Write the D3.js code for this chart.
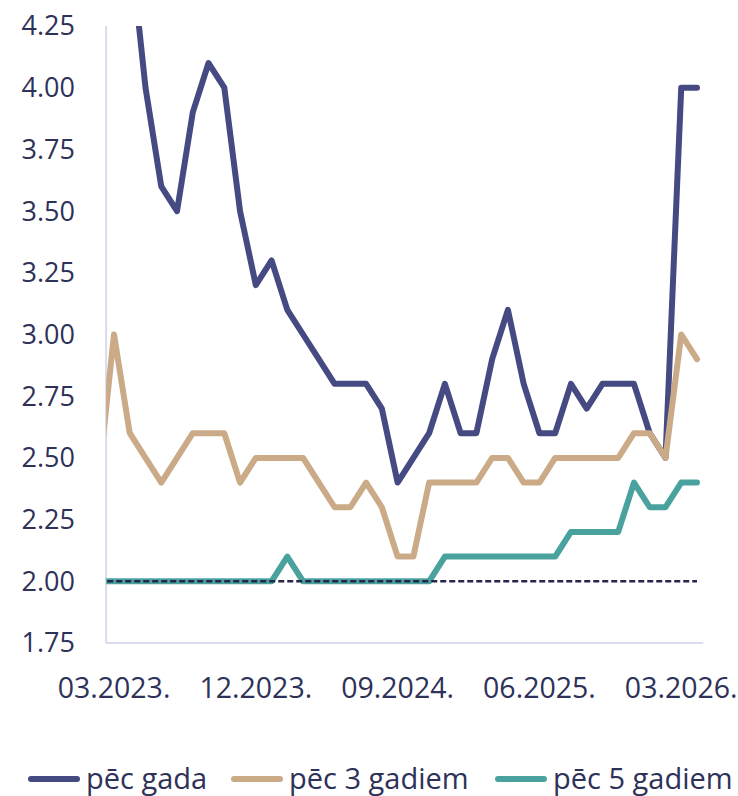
<!DOCTYPE html>
<html>
<head>
<meta charset="utf-8">
<script src="https://cdn.jsdelivr.net/npm/d3@7"></script>
<style>
  body { margin: 0; background: #fff; }
  text { font-family: "Open Sans", sans-serif; fill: #2e3158; }
</style>
</head>
<body>
<script>
// months from 02.2023 (partly outside the axis) to 04.2026
let months = d3.range(-1, 38).map(i => {
    let d = new Date(2023, 2 + i, 1);
    return String(d.getMonth() + 1).padStart(2, "0") + "." + d.getFullYear() + ".";
});

let pecGada = [5.3, 5.0, 4.6, 4.0, 3.6, 3.5, 3.9, 4.1, 4.0, 3.5, 3.2, 3.3, 3.1, 3.0, 2.9, 2.8, 2.8, 2.8, 2.7, 2.4,
    2.5, 2.6, 2.8, 2.6, 2.6, 2.9, 3.1, 2.8, 2.6, 2.6, 2.8, 2.7, 2.8, 2.8, 2.8, 2.6, 2.5, 4.0, 4.0];
let pec3 = [2.4, 3.0, 2.6, 2.5, 2.4, 2.5, 2.6, 2.6, 2.6, 2.4, 2.5, 2.5, 2.5, 2.5, 2.4, 2.3, 2.3, 2.4, 2.3, 2.1,
    2.1, 2.4, 2.4, 2.4, 2.4, 2.5, 2.5, 2.4, 2.4, 2.5, 2.5, 2.5, 2.5, 2.5, 2.6, 2.6, 2.5, 3.0, 2.9];
let pec5 = [2.0, 2.0, 2.0, 2.0, 2.0, 2.0, 2.0, 2.0, 2.0, 2.0, 2.0, 2.0, 2.1, 2.0, 2.0, 2.0, 2.0, 2.0, 2.0, 2.0,
    2.0, 2.0, 2.1, 2.1, 2.1, 2.1, 2.1, 2.1, 2.1, 2.1, 2.2, 2.2, 2.2, 2.2, 2.4, 2.3, 2.3, 2.4, 2.4];
let merkis = months.map(() => 2.0);

let yTicks = [1.75, 2.00, 2.25, 2.50, 2.75, 3.00, 3.25, 3.50, 3.75, 4.00, 4.25];
let xLabels = ["03.2023.", "12.2023.", "09.2024.", "06.2025.", "03.2026."];

let series = [
    { name: "pēc gada", values: pecGada, color: "#454a83" },
    { name: "pēc 3 gadiem", values: pec3, color: "#cbab87" },
    { name: "pēc 5 gadiem", values: pec5, color: "#4aa29f" }
];

let width = 738, height = 796;

let svg = d3.select("body").append("svg")
    .attr("width", width)
    .attr("height", height);

// month index: 0 = 03.2023
let x = d3.scaleLinear()
    .domain([0, 37])
    .range([114, 697]);

let y = d3.scaleLinear()
    .domain([1.75, 4.25])
    .range([643, 26]);

let x0 = x(-0.5), x1 = x(37.4);

svg.append("defs").append("clipPath")
    .attr("id", "plot")
  .append("rect")
    .attr("x", x0)
    .attr("y", y(4.25))
    .attr("width", x1 - x0)
    .attr("height", y(1.75) - y(4.25));

// axes lines
svg.append("line")
    .attr("x1", x0).attr("x2", x0)
    .attr("y1", y(4.25)).attr("y2", y(1.75))
    .attr("stroke", "#d9dbef").attr("stroke-width", 2);
svg.append("line")
    .attr("x1", x0).attr("x2", x1)
    .attr("y1", y(1.75)).attr("y2", y(1.75))
    .attr("stroke", "#d9dbef").attr("stroke-width", 2);

// y tick labels
svg.selectAll(".ytick")
    .data(yTicks)
  .enter().append("text")
    .attr("class", "ytick")
    .attr("x", 75)
    .attr("y", d => y(d))
    .attr("dy", "0.35em")
    .attr("text-anchor", "end")
    .style("font-size", "27px")
    .text(d => d.toFixed(2));

// x tick labels
svg.selectAll(".xtick")
    .data(xLabels)
  .enter().append("text")
    .attr("class", "xtick")
    .attr("x", d => x(months.indexOf(d) - 1))
    .attr("y", 698)
    .attr("text-anchor", "middle")
    .style("font-size", "28.5px")
    .text(d => d);

let line = d3.line()
    .x((d, i) => x(i - 1))
    .y(d => y(d));

let g = svg.append("g").attr("clip-path", "url(#plot)");

series.forEach(s => {
    g.append("path")
        .datum(s.values)
        .attr("fill", "none")
        .attr("stroke", s.color)
        .attr("stroke-width", 6)
        .attr("stroke-linejoin", "round")
        .attr("stroke-linecap", "round")
        .attr("d", line);
});

// 2% dashed line
g.append("path")
    .datum(merkis)
    .attr("fill", "none")
    .attr("stroke", "#26264a")
    .attr("stroke-width", 2.5)
    .attr("stroke-dasharray", "6,3")
    .attr("d", line);

// legend
let legendX = [29, 232, 496];
let legend = svg.selectAll(".legend")
    .data(series)
  .enter().append("g")
    .attr("class", "legend")
    .attr("transform", (d, i) => "translate(" + legendX[i] + ",779)");

legend.append("line")
    .attr("x1", 2).attr("x2", 48)
    .attr("y1", 0).attr("y2", 0)
    .attr("stroke", d => d.color)
    .attr("stroke-width", 6)
    .attr("stroke-linecap", "round");

legend.append("text")
    .attr("x", 57)
    .attr("y", 0)
    .attr("dy", "0.33em")
    .style("font-size", "29px")
    .text(d => d.name);
</script>
</body>
</html>
